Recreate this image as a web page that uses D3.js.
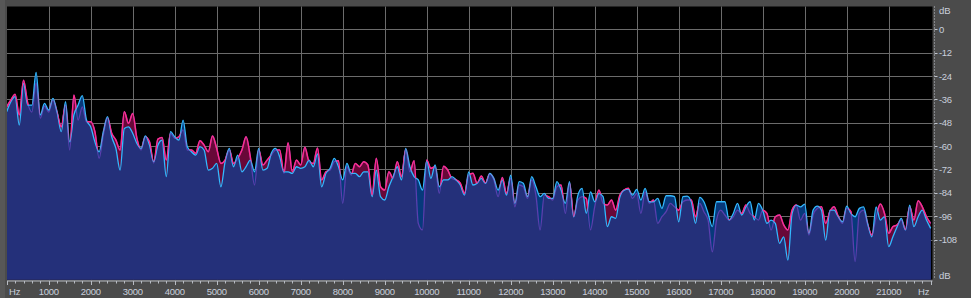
<!DOCTYPE html>
<html>
  <head>
    <title>Frequency Analysis</title>
    <script src="https://d3js.org/d3.v7.min.js"></script>
    <style>
      body { margin: 0; background: #4b4b4b; }
      svg { display: block; }
      text { font-family: "Liberation Sans", Arial, sans-serif; font-size: 9.5px; fill: #c9cfdc; }
    </style>
  </head>
  <body>
    <div id="spectrum"></div>
    <script>
      // FFT bins, 100 Hz apart, 0 .. 22000 Hz
      const binHz = 100
      // left channel (red) level in dB per bin
      const leftDb = [
        -39.8,-36.3,-33.4,-44.0,-26.1,-37.9,-42.5,-27.6,-45.6,-39.4,
        -42.5,-36.3,-43.0,-50.1,-38.9,-62.0,-33.8,-46.6,-39.8,-47.5,
        -47.5,-52.6,-66.3,-54.3,-45.6,-53.4,-56.9,-62.0,-42.3,-48.3,
        -43.2,-56.0,-62.0,-55.3,-57.8,-68.7,-56.4,-55.6,-67.2,-53.4,
        -56.0,-55.2,-51.7,-62.0,-62.0,-63.7,-57.2,-59.5,-62.9,-54.8,
        -61.2,-68.9,-67.2,-62.0,-68.9,-66.3,-62.0,-55.2,-65.5,-80.0,
        -62.0,-69.7,-67.2,-64.6,-62.0,-62.0,-74.0,-58.3,-73.2,-67.2,
        -69.7,-60.6,-68.0,-68.9,-61.0,-77.4,-73.2,-72.3,-68.0,-67.5,
        -89.4,-70.6,-74.9,-68.9,-70.6,-68.0,-69.7,-85.2,-66.3,-80.9,
        -82.6,-73.2,-76.6,-68.0,-75.7,-61.7,-73.2,-67.5,-99.7,-103.1,
        -67.2,-71.4,-70.6,-84.3,-70.3,-72.3,-76.6,-77.4,-79.1,-84.3,
        -74.9,-74.0,-79.1,-75.4,-79.1,-74.4,-77.4,-86.0,-76.1,-84.3,
        -76.6,-91.2,-80.0,-80.9,-86.9,-77.4,-85.2,-103.1,-85.2,-86.0,
        -87.7,-80.9,-80.0,-94.6,-79.1,-96.3,-87.7,-86.0,-86.9,-103.1,
        -91.2,-82.6,-89.4,-90.3,-87.7,-92.9,-85.2,-82.6,-81.7,-86.9,
        -84.3,-94.6,-83.5,-89.4,-87.7,-99.7,-96.3,-93.7,-89.4,-91.2,
        -92.9,-88.6,-87.7,-87.7,-96.3,-89.4,-93.7,-98.0,-114.3,-98.0,
        -92.9,-95.4,-98.0,-96.3,-92.9,-94.6,-90.3,-94.6,-96.3,-98.0,
        -92.9,-94.6,-103.1,-96.3,-95.4,-100.5,-103.1,-92.9,-90.3,-98.0,
        -94.6,-105.7,-95.4,-92.0,-91.2,-99.7,-93.7,-91.2,-96.3,-99.7,
        -92.0,-93.7,-119.4,-94.6,-92.9,-100.5,-105.7,-96.3,-89.8,-94.6,
        -104.8,-101.4,-100.5,-98.0,-103.1,-91.2,-98.0,-88.1,-91.2,-96.3,
        -99.7
      ]
      // right channel (blue) level in dB per bin
      const rightDb = [
        -42.3,-37.2,-34.6,-49.2,-27.8,-38.9,-38.9,-22.1,-44.0,-38.0,
        -41.5,-35.5,-42.3,-52.6,-37.2,-57.8,-44.0,-38.9,-34.1,-46.6,
        -50.1,-57.8,-62.9,-52.6,-44.9,-55.2,-61.2,-72.3,-50.9,-50.1,
        -53.4,-58.6,-61.2,-54.7,-59.5,-68.0,-59.5,-57.0,-75.7,-52.6,
        -55.2,-56.9,-46.6,-60.3,-62.9,-64.6,-60.3,-62.0,-72.3,-71.4,
        -68.9,-80.9,-68.0,-61.2,-70.6,-64.6,-73.2,-70.6,-67.2,-73.2,
        -61.2,-72.3,-71.4,-63.7,-61.2,-65.5,-73.2,-73.2,-74.0,-70.6,
        -71.4,-70.6,-67.2,-70.6,-64.0,-80.9,-74.0,-71.4,-66.3,-70.6,
        -77.4,-68.9,-74.0,-74.0,-75.7,-73.2,-73.2,-86.0,-72.3,-86.0,
        -87.7,-80.9,-75.7,-70.6,-77.4,-61.2,-70.6,-75.7,-77.4,-82.6,
        -67.5,-76.6,-69.7,-80.9,-77.4,-77.4,-75.7,-77.4,-80.0,-85.2,
        -73.2,-80.0,-79.1,-76.6,-79.1,-74.0,-76.6,-82.6,-77.4,-85.2,
        -74.9,-89.4,-78.3,-79.1,-86.0,-75.7,-80.9,-86.0,-84.3,-86.9,
        -86.9,-78.3,-82.6,-89.4,-78.3,-96.3,-85.2,-81.7,-94.6,-83.5,
        -88.6,-84.3,-86.0,-101.4,-96.3,-97.1,-86.0,-82.6,-82.1,-85.2,
        -82.2,-87.7,-81.7,-88.6,-88.6,-86.9,-92.0,-85.5,-85.5,-86.0,
        -98.9,-86.0,-85.7,-88.6,-99.7,-86.3,-88.6,-94.6,-101.4,-88.6,
        -88.6,-88.6,-98.0,-94.6,-89.4,-95.4,-91.2,-88.6,-98.0,-89.4,
        -92.9,-99.7,-98.0,-99.7,-110.0,-106.6,-118.6,-94.6,-90.3,-91.2,
        -89.8,-104.8,-92.9,-90.8,-92.9,-108.3,-92.9,-92.9,-96.3,-98.9,
        -90.8,-94.6,-96.3,-92.0,-91.2,-99.7,-106.6,-91.2,-98.0,-96.3,
        -111.7,-106.6,-101.4,-97.1,-103.1,-90.3,-101.4,-96.3,-92.9,-98.0,
        -102.3
      ]
      const freqTicks = [1000,2000,3000,4000,5000,6000,7000,8000,9000,10000,11000,
                         12000,13000,14000,15000,16000,17000,18000,19000,20000,21000]
      const dbTicks = [0,-12,-24,-36,-48,-60,-72,-84,-96,-108]

      const W = 971, H = 298
      const plot = {left: 7, top: 6.5, right: 932.5, bottom: 279.5}

      const data = leftDb.map((l, i) => ({f: i * binHz, l: l, r: rightDb[i]}))

      const svg = d3.select("#spectrum").append("svg")
        .attr("width", W).attr("height", H)

      svg.append("rect").attr("width", W).attr("height", H).attr("fill", "#4b4b4b")
      svg.append("rect").attr("x", 0).attr("y", 0).attr("width", 5).attr("height", H).attr("fill", "#575757")

      const x = d3.scaleLinear().domain([0, 22050]).range([6.7, 932.8])
      const y = d3.scaleLinear().domain([12, -128.5]).range([6, 279.4])

      svg.append("rect")
        .attr("x", plot.left).attr("y", plot.top)
        .attr("width", plot.right - plot.left).attr("height", plot.bottom - plot.top)
        .attr("fill", "#000")

      const defs = svg.append("defs")
      defs.append("clipPath").attr("id", "plotClip")
        .append("rect")
          .attr("x", plot.left).attr("y", plot.top)
          .attr("width", plot.right - plot.left).attr("height", plot.bottom - plot.top)

      // grid
      const grid = svg.append("g").attr("stroke", "#6b6b6b").attr("stroke-width", 1)
      grid.selectAll("line.v").data(freqTicks).join("line")
        .attr("x1", d => Math.round(x(d)) + 0.5).attr("x2", d => Math.round(x(d)) + 0.5)
        .attr("y1", plot.top).attr("y2", plot.bottom)
      grid.selectAll("line.h").data(dbTicks).join("line")
        .attr("x1", plot.left).attr("x2", plot.right)
        .attr("y1", d => Math.round(y(d)) + 0.5).attr("y2", d => Math.round(y(d)) + 0.5)

      const g = svg.append("g").attr("clip-path", "url(#plotClip)")

      const curve = d3.curveMonotoneX
      const areaOf = acc => d3.area().curve(curve).x(d => x(d.f)).y0(plot.bottom + 2).y1(d => y(acc(d)))
      const lineOf = acc => d3.line().curve(curve).x(d => x(d.f)).y(d => y(acc(d)))

      // red channel fill, then blue, then the shared part underneath both
      g.append("path").datum(data).attr("d", areaOf(d => d.l)).attr("fill", "#680838")
      g.append("path").datum(data).attr("d", areaOf(d => d.r)).attr("fill", "#07397b")
      g.append("path").datum(data).attr("d", areaOf(d => Math.min(d.l, d.r))).attr("fill", "#24307a")

      // area above the blue curve, used to show the red line in full colour
      defs.append("clipPath").attr("id", "aboveRight")
        .append("path").datum(data)
          .attr("d", d3.area().curve(curve).x(d => x(d.f)).y0(plot.top - 5).y1(d => y(d.r)))

      g.append("path").datum(data).attr("d", lineOf(d => d.l))
        .attr("fill", "none").attr("stroke", "#5b3fae").attr("stroke-width", 1.3)
      g.append("path").datum(data).attr("d", lineOf(d => d.r))
        .attr("fill", "none").attr("stroke", "#33b9ff").attr("stroke-width", 1.3)
      g.append("g").attr("clip-path", "url(#aboveRight)")
        .append("path").datum(data).attr("d", lineOf(d => d.l))
          .attr("fill", "none").attr("stroke", "#ff2c8e").attr("stroke-width", 1.5)

      // bottom frequency ruler
      const xr = svg.append("g").attr("transform", "translate(0,281)")
      xr.append("line").attr("x1", plot.left).attr("x2", plot.right)
        .attr("stroke", "#b8bcc4").attr("stroke-width", 1)
      xr.selectAll("line.t").data(d3.range(0, 22001, 200)).join("line")
        .attr("x1", d => Math.round(x(d)) + 0.5).attr("x2", d => Math.round(x(d)) + 0.5)
        .attr("y1", 0).attr("y2", d => d % 1000 === 0 ? 4 : 2.5)
        .attr("stroke", "#b8bcc4")
      xr.selectAll("text.f").data(freqTicks).join("text")
        .attr("x", d => x(d)).attr("y", 13.5)
        .attr("text-anchor", "middle").attr("letter-spacing", "-0.3px")
        .text(d => d)
      xr.append("text").attr("x", 9).attr("y", 13.5).text("Hz")
      xr.append("text").attr("x", 918).attr("y", 13.5).text("Hz")

      // right dB ruler
      const yr = svg.append("g").attr("transform", "translate(934.5,0)")
      yr.append("line").attr("y1", plot.top).attr("y2", plot.bottom)
        .attr("stroke", "#c0c4cc").attr("stroke-dasharray", "1,2")
      yr.selectAll("line.t").data(dbTicks).join("line")
        .attr("x1", 0).attr("x2", 3)
        .attr("y1", d => Math.round(y(d)) + 0.5).attr("y2", d => Math.round(y(d)) + 0.5)
        .attr("stroke", "#c0c4cc")
      yr.selectAll("text.d").data(dbTicks).join("text")
        .attr("x", 4.5).attr("y", d => y(d) + 3.5)
        .attr("letter-spacing", "-0.3px")
        .text(d => d)
      yr.append("text").attr("x", 4.5).attr("y", 14).text("dB")
      yr.append("text").attr("x", 4.5).attr("y", 279).text("dB")
    </script>
  </body>
</html>
